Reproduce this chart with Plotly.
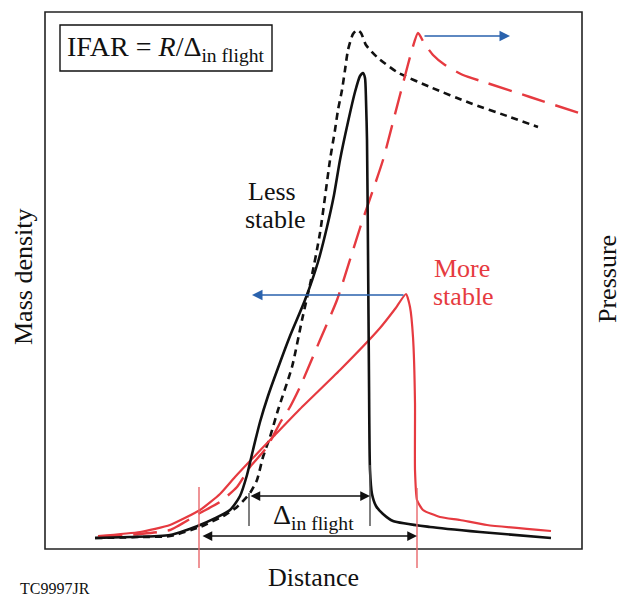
import plotly.graph_objects as go

# Schematic data (distance, value) in frame units (frame spans 0..537 on both axes)
ls_density_x = [50, 85, 125, 155, 185, 195, 202, 208, 215, 223, 233, 245, 260, 273, 282, 289, 295, 303, 310, 315, 318, 320, 321, 322, 323, 324, 325, 327, 331, 338, 348, 385, 435, 506]
ls_density_y = [11, 12, 14, 24, 39, 53, 74, 99, 127, 153, 181, 213, 249, 287, 322, 354, 389, 427, 457, 473, 476, 471, 449, 409, 299, 169, 79, 55, 43, 35, 28, 22, 17, 11]

ls_pressure_x = [50, 95, 125, 155, 180, 192, 205, 212, 218, 225, 233, 247, 257, 266, 275, 285, 290, 293, 297, 300, 303, 308, 312, 316, 321, 332, 352, 385, 425, 465, 493]
ls_pressure_y = [11, 12, 13, 22, 34, 42, 56, 69, 92, 112, 139, 182, 229, 269, 316, 389, 419, 439, 459, 479, 499, 515, 519, 516, 504, 492, 477, 462, 446, 432, 422]

ms_density_x = [53, 95, 125, 155, 175, 190, 205, 228, 255, 295, 335, 350, 361, 365, 368, 370, 370, 372, 378, 395, 415, 442, 506]
ms_density_y = [13, 17, 24, 39, 55, 72, 88, 112, 140, 179, 221, 240, 255, 242, 212, 146, 79, 49, 39, 32, 29, 24, 18]

ms_pressure_x = [53, 95, 125, 155, 175, 192, 205, 222, 235, 245, 255, 275, 292, 315, 338, 355, 373, 379, 388, 400, 418, 442, 485, 537]
ms_pressure_y = [12, 15, 19, 36, 47, 62, 82, 102, 126, 142, 162, 209, 249, 321, 389, 454, 516, 506, 494, 484, 474, 466, 452, 435]

BLACK = "#111111"
RED = "#e63a40"
BLUE = "#2a62ad"
FONT = "Liberation Serif, Times New Roman, serif"

fig = go.Figure()
fig.add_trace(go.Scatter(x=ls_pressure_x, y=ls_pressure_y, mode="lines",
                         line=dict(color=BLACK, width=2.6, dash="7px,5px", shape="spline", smoothing=0.6)))
fig.add_trace(go.Scatter(x=ms_pressure_x, y=ms_pressure_y, mode="lines",
                         line=dict(color=RED, width=2.4, dash="24px,11px", shape="spline", smoothing=0.5)))
fig.add_trace(go.Scatter(x=ms_density_x, y=ms_density_y, mode="lines",
                         line=dict(color=RED, width=2.2, shape="spline", smoothing=0.5)))
fig.add_trace(go.Scatter(x=ls_density_x, y=ls_density_y, mode="lines",
                         line=dict(color=BLACK, width=2.6, shape="spline", smoothing=0.6)))

shapes = [
    dict(type="rect", x0=0, y0=0, x1=537, y1=537, line=dict(color="#222", width=1.6)),
    dict(type="rect", x0=15, y0=478, x1=227, y1=524, line=dict(color="#111", width=1.4)),
    dict(type="line", x0=154, y0=62, x1=154, y1=-19, line=dict(color="#e8676b", width=1.4)),
    dict(type="line", x0=372, y0=61, x1=372, y1=-19, line=dict(color="#e8676b", width=1.4)),
    dict(type="line", x0=204, y0=56, x1=204, y1=23, line=dict(color="#555", width=1.5)),
    dict(type="line", x0=325, y0=84, x1=325, y1=23, line=dict(color="#555", width=1.5)),
]

ann = []
def arrow(x, y, ax, ay, color, both=False, width=1.5, size=1.3):
    ann.append(dict(x=x, y=y, ax=ax, ay=ay, xref="x", yref="y", axref="x", ayref="y",
                    showarrow=True, arrowhead=2, arrowsize=size, arrowwidth=width,
                    arrowcolor=color, arrowside="end+start" if both else "end", text=""))

arrow(465, 513, 378, 513, BLUE, size=1.4)
arrow(207, 254, 360, 254, BLUE, size=1.4)
arrow(325, 53, 204, 53, BLACK, both=True)
arrow(372, 13, 156, 13, BLACK, both=True)

def text(x, y, s, size=26, color=BLACK, angle=0):
    ann.append(dict(x=x, y=y, xref="x", yref="y", text=s, showarrow=False, textangle=angle,
                    font=dict(family=FONT, size=size, color=color)))

text(121, 501, "IFAR = <i>R</i>/Δ<sub>in flight</sub>", size=28)
text(268, 33, "Δ<sub>in flight</sub>", size=28)
text(227, 358, "Less")
text(230, 330, "stable")
text(417, 281, "More", color=RED)
text(418, 253, "stable", color=RED)
text(268, -28, "Distance")
text(-22, 272, "Mass density", angle=-90)
text(562, 270, "Pressure", angle=-90)
text(10, -39, "TC9997JR", size=16)

fig.update_layout(
    width=622, height=597, margin=dict(l=0, r=0, t=0, b=0),
    paper_bgcolor="white", plot_bgcolor="white", showlegend=False,
    xaxis=dict(range=[-45, 577], visible=False, fixedrange=True),
    yaxis=dict(range=[-48, 549], visible=False, fixedrange=True),
    shapes=shapes, annotations=ann, hovermode=False,
)
fig.write_html("out.html", config={"displayModeBar": False})
